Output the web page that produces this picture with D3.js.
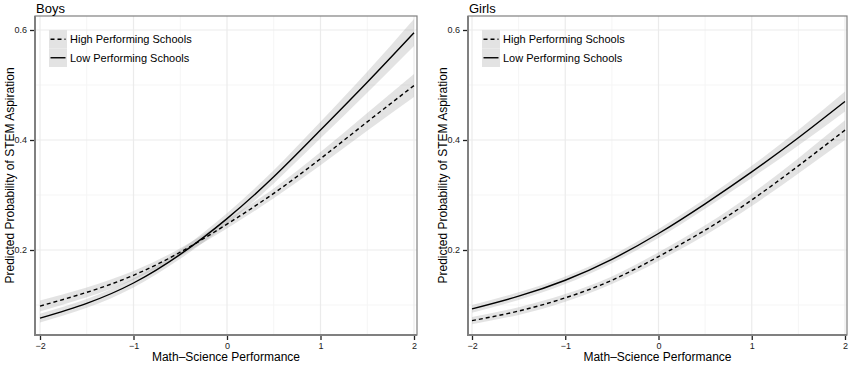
<!DOCTYPE html>
<html>
<head>
<meta charset="utf-8">
<script src="https://cdn.jsdelivr.net/npm/d3@7"></script>
<style>
  body { margin: 0; background: #fff; }
  svg { display: block; }
  text { font-family: "Liberation Sans", Arial, Helvetica, sans-serif; }
</style>
</head>
<body>
<svg id="chart" width="851" height="370"></svg>
<script>
// ---- data ----
const xValues = [-2, -1.5, -1, -0.5, 0, 0.5, 1, 1.5, 2];
const xTicks = [-2, -1, 0, 1, 2];
const yTicks = [0.2, 0.4, 0.6];
const yMinor = [0.1, 0.3, 0.5];
const xMinor = [-1.5, -0.5, 0.5, 1.5];
const panelTitles = ["Boys", "Girls"];
const seriesNames = ["High Performing Schools", "Low Performing Schools"];

const boysHigh      = [0.098, 0.123, 0.154, 0.196, 0.247, 0.303, 0.366, 0.433, 0.499];
const boysHighLower = [0.088, 0.114, 0.146, 0.189, 0.239, 0.294, 0.354, 0.417, 0.478];
const boysHighUpper = [0.108, 0.132, 0.162, 0.203, 0.255, 0.312, 0.378, 0.449, 0.520];
const boysLow       = [0.076, 0.103, 0.140, 0.192, 0.257, 0.333, 0.418, 0.505, 0.595];
const boysLowLower  = [0.068, 0.095, 0.132, 0.184, 0.247, 0.321, 0.403, 0.486, 0.571];
const boysLowUpper  = [0.084, 0.111, 0.148, 0.200, 0.267, 0.345, 0.433, 0.524, 0.620];

const girlsHigh      = [0.0715, 0.089, 0.113, 0.145, 0.188, 0.236, 0.291, 0.353, 0.418];
const girlsHighLower = [0.065, 0.082, 0.106, 0.138, 0.180, 0.227, 0.280, 0.339, 0.400];
const girlsHighUpper = [0.078, 0.096, 0.120, 0.152, 0.196, 0.245, 0.302, 0.367, 0.436];
const girlsLow       = [0.093, 0.116, 0.145, 0.183, 0.230, 0.284, 0.342, 0.404, 0.470];
const girlsLowLower  = [0.086, 0.109, 0.138, 0.176, 0.222, 0.275, 0.331, 0.390, 0.452];
const girlsLowUpper  = [0.100, 0.123, 0.152, 0.190, 0.238, 0.293, 0.353, 0.418, 0.488];

const panels = [
  { title: panelTitles[0], left: 35, right: 417, x0: 40, x1: 414,
    series: [
      { name: seriesNames[0], v: boysHigh, lo: boysHighLower, hi: boysHighUpper, dash: "4,3" },
      { name: seriesNames[1], v: boysLow, lo: boysLowLower, hi: boysLowUpper, dash: null } ] },
  { title: panelTitles[1], left: 468, right: 847, x0: 472, x1: 845,
    series: [
      { name: seriesNames[0], v: girlsHigh, lo: girlsHighLower, hi: girlsHighUpper, dash: "4,3" },
      { name: seriesNames[1], v: girlsLow, lo: girlsLowLower, hi: girlsLowUpper, dash: null } ] }
];

const panelTop = 16, panelBottom = 335;
const svg = d3.select("#chart");
const y = d3.scaleLinear().domain([0.2, 0.6]).range([250, 30]);

panels.forEach(p => {
  const x = d3.scaleLinear().domain([-2, 2]).range([p.x0, p.x1]);
  const g = svg.append("g");

  // background + grid
  g.append("rect").attr("x", p.left).attr("y", panelTop).attr("width", p.right - p.left)
    .attr("height", panelBottom - panelTop).attr("fill", "#fff");
  g.selectAll(".ymin").data(yMinor).join("line")
    .attr("x1", p.left).attr("x2", p.right).attr("y1", d => y(d)).attr("y2", d => y(d))
    .attr("stroke", "#f5f5f5").attr("stroke-width", 1);
  g.selectAll(".xmin").data(xMinor).join("line")
    .attr("y1", panelTop).attr("y2", panelBottom).attr("x1", d => x(d)).attr("x2", d => x(d))
    .attr("stroke", "#f5f5f5").attr("stroke-width", 1);
  g.selectAll(".ymaj").data(yTicks).join("line")
    .attr("x1", p.left).attr("x2", p.right).attr("y1", d => y(d)).attr("y2", d => y(d))
    .attr("stroke", "#ebebeb").attr("stroke-width", 1.2);
  g.selectAll(".xmaj").data(xTicks).join("line")
    .attr("y1", panelTop).attr("y2", panelBottom).attr("x1", d => x(d)).attr("x2", d => x(d))
    .attr("stroke", "#ebebeb").attr("stroke-width", 1.2);

  const idx = d3.range(xValues.length);
  const area = d3.area().x(i => x(xValues[i])).curve(d3.curveNatural);
  const line = d3.line().x(i => x(xValues[i])).curve(d3.curveNatural);

  p.series.forEach(s => {
    g.append("path").attr("d", area.y0(i => y(s.lo[i])).y1(i => y(s.hi[i]))(idx))
      .attr("fill", "#999").attr("fill-opacity", 0.27);
  });
  p.series.forEach(s => {
    g.append("path").attr("d", line.y(i => y(s.v[i]))(idx))
      .attr("fill", "none").attr("stroke", "#000").attr("stroke-width", 1.4)
      .attr("stroke-dasharray", s.dash);
  });

  // border
  g.append("rect").attr("x", p.left).attr("y", panelTop).attr("width", p.right - p.left)
    .attr("height", panelBottom - panelTop).attr("fill", "none").attr("stroke", "#808080").attr("stroke-width", 1.2);
  g.append("line").attr("x1", p.left).attr("x2", p.left).attr("y1", panelTop).attr("y2", panelBottom + 1)
    .attr("stroke", "#808080").attr("stroke-width", 2);
  g.append("line").attr("x1", p.left - 1).attr("x2", p.right).attr("y1", panelBottom).attr("y2", panelBottom)
    .attr("stroke", "#808080").attr("stroke-width", 2);

  // axes
  const yAxis = d3.axisLeft(y).tickValues(yTicks).tickFormat(d3.format(".1f")).tickSize(4).tickPadding(3);
  const ya = g.append("g").attr("transform", `translate(${p.left - 1},0)`).call(yAxis);
  const xAxis = d3.axisBottom(x).tickValues(xTicks).tickFormat(d => d < 0 ? "\u2212" + Math.abs(d) : d).tickSize(4).tickPadding(3);
  const xa = g.append("g").attr("transform", `translate(0,${panelBottom + 1})`).call(xAxis);
  [ya, xa].forEach(a => {
    a.select(".domain").remove();
    a.selectAll(".tick line").attr("stroke", "#222").attr("stroke-width", 1.3);
    a.selectAll(".tick text").attr("fill", "#1a1a1a").style("font-size", "9px")
      .style("font-family", "'Liberation Sans', Arial, sans-serif");
  });

  // titles
  g.append("text").attr("x", p.left + 1).attr("y", 13).text(p.title)
    .style("font-size", "13px").attr("fill", "#000");
  g.append("text").attr("x", (p.left + p.right) / 2).attr("y", 361).attr("text-anchor", "middle")
    .text("Math\u2013Science Performance").style("font-size", "12px").attr("fill", "#000");
  g.append("text").attr("transform", `translate(${p.left - 21},${(panelTop + panelBottom) / 2}) rotate(-90)`)
    .attr("text-anchor", "middle").text("Predicted Probability of STEM Aspiration")
    .style("font-size", "12px").attr("fill", "#000");

  // legend
  const lx = p.left + 14, ly = 30, kh = 18.5;
  const leg = g.append("g");
  p.series.forEach((s, i) => {
    const ky = ly + i * kh;
    leg.append("rect").attr("x", lx).attr("y", ky).attr("width", 18).attr("height", kh)
      .attr("fill", "#e3e3e3");
    leg.append("line").attr("x1", lx + 1.5).attr("x2", lx + 16.5).attr("y1", ky + kh / 2).attr("y2", ky + kh / 2)
      .attr("stroke", "#000").attr("stroke-width", 1.4).attr("stroke-dasharray", s.dash);
    leg.append("text").attr("x", lx + 21).attr("y", ky + kh / 2 + 4).text(s.name)
      .style("font-size", "11px").attr("fill", "#000");
  });
});
</script>
</body>
</html>
